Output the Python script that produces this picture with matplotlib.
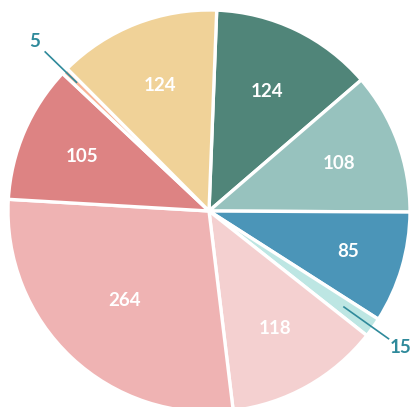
import matplotlib
matplotlib.use("Agg")
import matplotlib.pyplot as plt
import numpy as np

# slice values, clockwise from the top
values = [124, 108, 85, 15, 118, 264, 105, 5, 124]
colors = ["#508579", "#97c2be", "#4b95b8", "#bde6e3", "#f4d0d0",
          "#efb3b3", "#dd8383", "#f7b497", "#f0d298"]
# where each inside label sits, as a fraction of the radius
label_r = [0.66, 0.69, 0.72, None, 0.67, 0.61, 0.69, None, 0.67]
# tiny slices: label outside with a leader line (line start, line end, text)
outside = {3: (0.82, 1.10, 1.17), 7: (0.915, 1.14, 1.21)}

fig = plt.figure(figsize=(4.14, 4.07), dpi=100)
ax = fig.add_axes([8 / 414, -5 / 407, 402 / 414, 402 / 407])

wedges, _ = ax.pie(values, colors=colors, startangle=87.8, counterclock=False,
                   radius=1.0,
                   wedgeprops=dict(edgecolor="white", linewidth=2.4))
ax.set_xlim(-1, 1)
ax.set_ylim(-1, 1)
ax.set_aspect("equal")
ax.axis("off")

font = "Lato"
teal = "#2f8a9b"
for i, (w, v) in enumerate(zip(wedges, values)):
    mid = np.deg2rad((w.theta1 + w.theta2) / 2)
    c, s = np.cos(mid), np.sin(mid)
    if i in outside:
        r0, r1, rt = outside[i]
        ax.plot([r0 * c, r1 * c], [r0 * s, r1 * s], color=teal, lw=1.2,
                solid_capstyle="butt", clip_on=False)
        ax.text(rt * c, rt * s, str(v), ha="center", va="center",
                fontsize=13.5, fontweight="bold", color=teal, family=font,
                clip_on=False)
    else:
        r = label_r[i]
        ax.text(r * c, r * s, str(v), ha="center", va="center",
                fontsize=13.5, fontweight="bold", color="white", family=font)

fig.savefig("out.png", dpi=100)
